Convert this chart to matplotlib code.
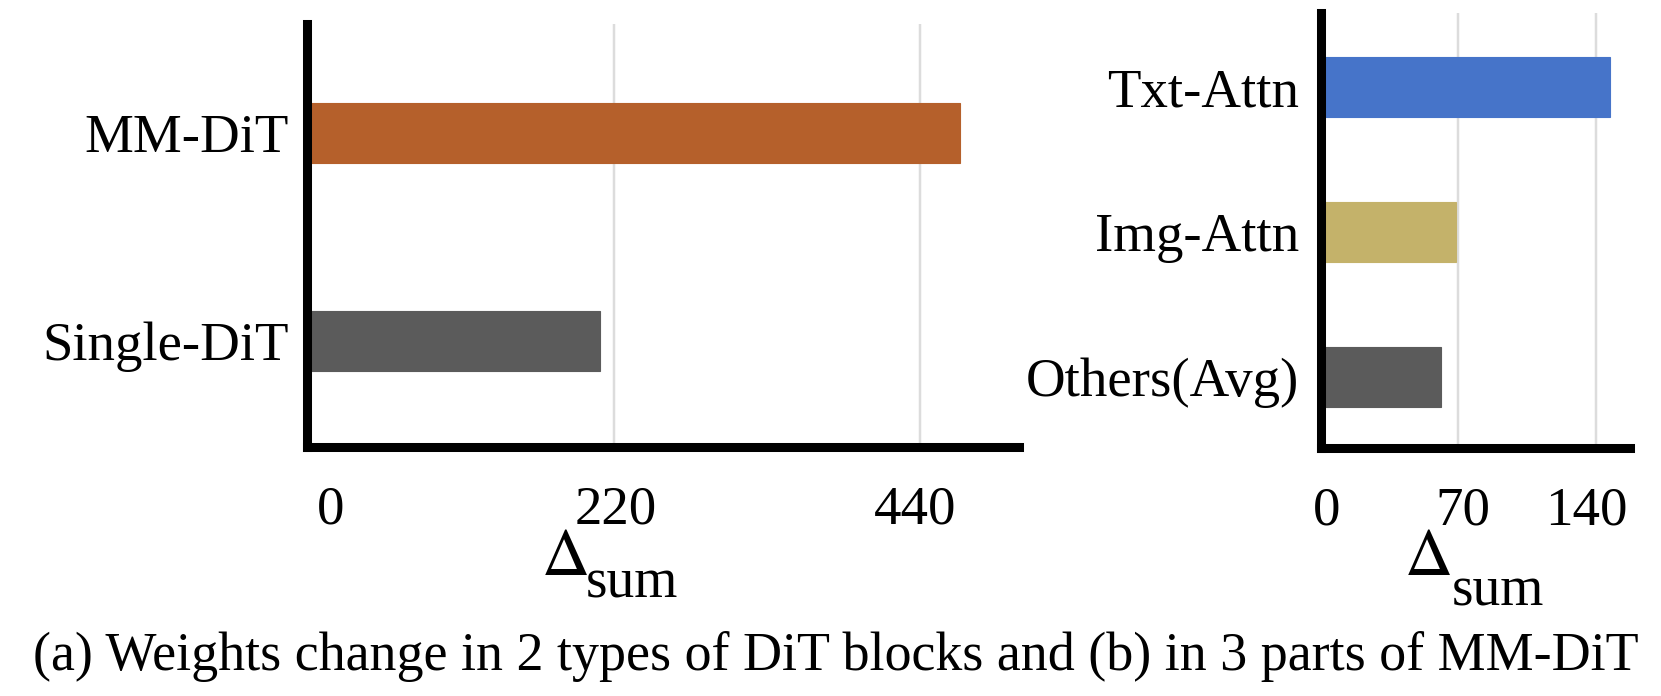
import matplotlib
matplotlib.use("Agg")
import matplotlib.pyplot as plt
from matplotlib.transforms import ScaledTranslation

# ---- data ----
left_categories = ["Single-DiT", "MM-DiT"]
left_values = [210, 469]
left_colors = ["#5B5B5B", "#B5602B"]
left_ticks = [0, 220, 440]

right_categories = ["Others(Avg)", "Img-Attn", "Txt-Attn"]
right_values = [61, 69, 147]
right_colors = ["#5B5B5B", "#C4B26A", "#4674C9"]
right_ticks = [0, 70, 140]

caption = "(a) Weights change in 2 types of DiT blocks and (b) in 3 parts of MM-DiT"
label_main = r"$\Delta$"
label_sub = "sum"

plt.rcParams["font.family"] = ["Liberation Serif", "DejaVu Serif"]
plt.rcParams["mathtext.fontset"] = "stix"

W, H = 1661, 696
fig = plt.figure(figsize=(W / 100, H / 100), dpi=100)

FS = 39.5
SPINE_W = 6.5


def px(v):
    return v * 0.72  # pixels -> points at dpi 100


def setup(ax, cats, vals, colors, ticks, xlim, ylim, bar_h, tick_offsets, ypad):
    y = list(range(len(cats)))
    ax.barh(y, vals, height=bar_h, color=colors, zorder=3,
            edgecolor=colors, linewidth=0.8)
    ax.set_xlim(*xlim)
    ax.set_ylim(*ylim)
    ax.set_yticks(y)
    ax.set_yticklabels(cats, fontsize=FS)
    ax.set_xticks(ticks)
    ax.set_xticklabels([str(t) for t in ticks], fontsize=FS)
    ax.tick_params(axis="both", length=0)
    ax.tick_params(axis="x", pad=px(38))
    ax.tick_params(axis="y", pad=ypad)
    for lab, off in zip(ax.get_xticklabels(), tick_offsets):
        lab.set_transform(lab.get_transform() + ScaledTranslation(off / 100, 0, fig.dpi_scale_trans))
    ax.grid(axis="x", color="#DCDCDC", linewidth=px(2.5), zorder=0)
    ax.grid(axis="y", visible=False)
    for s in ["top", "right"]:
        ax.spines[s].set_visible(False)
    for s in ["left", "bottom"]:
        ax.spines[s].set_linewidth(SPINE_W)
        ax.spines[s].set_color("black")
        ax.spines[s].set_zorder(5)
    ax.set_facecolor("white")


def delta_label(x_delta, base_delta, x_sub, base_sub):
    fig.text(x_delta / W, 1 - base_delta / H, label_main, fontsize=48,
             ha="left", va="baseline")
    fig.text(x_sub / W, 1 - base_sub / H, label_sub, fontsize=40,
             ha="left", va="baseline")


# left axes: spine x 307..1019, y 24..447
axL = fig.add_axes([307 / W, 1 - 447 / H, (1019 - 307) / W, (447 - 24) / H])
setup(axL, left_categories, left_values, left_colors, left_ticks,
      (0, 511), (-0.51, 1.524), 0.29, [24, 2, -5], px(18))
delta_label(541, 575, 586, 597)

# right axes: spine x 1321..1630, y 13..448
axR = fig.add_axes([1321 / W, 1 - 448 / H, (1630 - 1321) / W, (448 - 13) / H])
setup(axR, right_categories, right_values, right_colors, right_ticks,
      (0, 157.4), (-0.49, 2.51), 0.41, [6, 4, -9], px(22))
delta_label(1404, 575, 1452, 605)

fig.text(33 / W, 1 - 670 / H, caption, ha="left", va="baseline", fontsize=38.9)

fig.savefig("out.png", dpi=100, facecolor="white")
